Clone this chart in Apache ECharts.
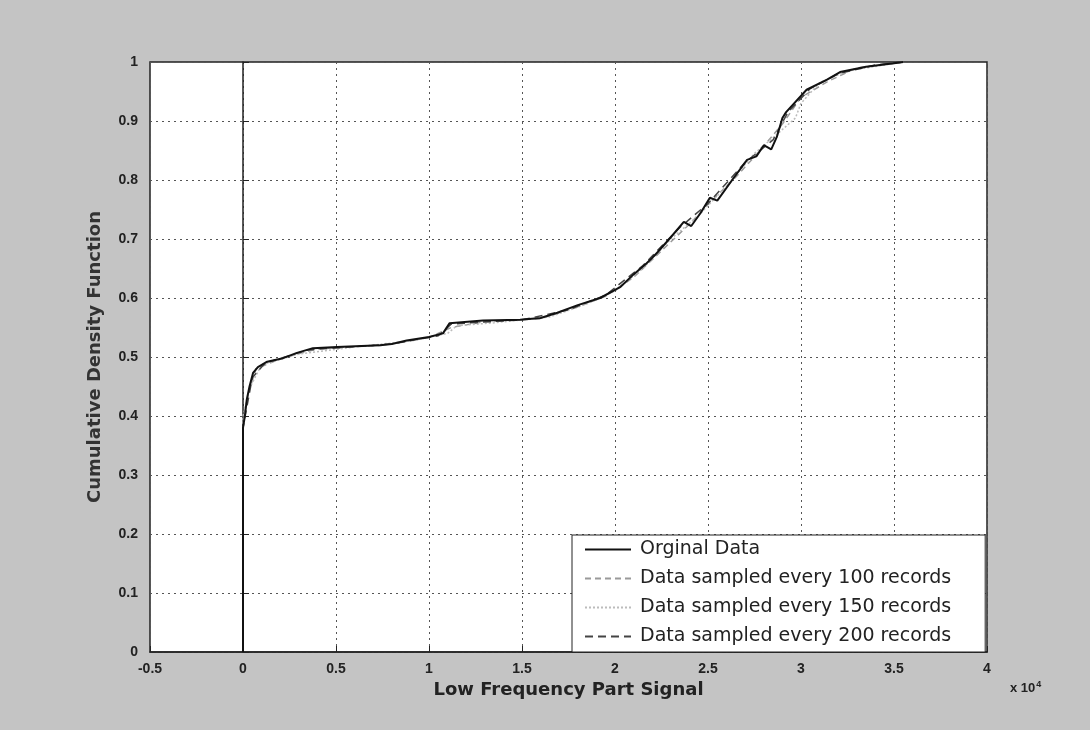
<!DOCTYPE html>
<html>
<head>
<meta charset="utf-8">
<script src="https://cdn.jsdelivr.net/npm/echarts@6/dist/echarts.min.js"></script>
<style>
  html, body { margin: 0; padding: 0; background: #c4c4c4; }
  #chart { width: 1090px; height: 730px; }
</style>
</head>
<body>
<div id="chart"></div>
<script>
// values, x in units of 10^4
var legendNames = [
  "Orginal Data",
  "Data sampled every 100 records",
  "Data sampled every 150 records",
  "Data sampled every 200 records"
];
var xTicks = [-0.5, 0, 0.5, 1, 1.5, 2, 2.5, 3, 3.5, 4];
var yTicks = [0, 0.1, 0.2, 0.3, 0.4, 0.5, 0.6, 0.7, 0.8, 0.9, 1];

var originalData = [
  [0, 0], [0, 0.38], [0.01, 0.40], [0.02, 0.427], [0.035, 0.45], [0.054, 0.473],
  [0.08, 0.483], [0.13, 0.492], [0.215, 0.498], [0.29, 0.507], [0.376, 0.515],
  [0.505, 0.517], [0.737, 0.52], [0.80, 0.522], [0.88, 0.528], [1.0, 0.534],
  [1.075, 0.54], [1.11, 0.557], [1.29, 0.562], [1.49, 0.563], [1.6, 0.566],
  [1.69, 0.575], [1.8, 0.588], [1.92, 0.60], [2.03, 0.619], [2.1, 0.64],
  [2.17, 0.659], [2.2, 0.668], [2.23, 0.678], [2.3, 0.703], [2.37, 0.729],
  [2.41, 0.722], [2.46, 0.744], [2.51, 0.77], [2.55, 0.765], [2.63, 0.80],
  [2.71, 0.834], [2.76, 0.84], [2.8, 0.859], [2.84, 0.852], [2.87, 0.873],
  [2.9, 0.905], [2.92, 0.915], [3.03, 0.953], [3.14, 0.97], [3.21, 0.983],
  [3.35, 0.992], [3.5, 0.998], [3.55, 1.0]
];
var sampled100 = [
  [0, 0], [0, 0.39], [0.03, 0.44], [0.07, 0.48], [0.2, 0.497], [0.4, 0.514],
  [0.75, 0.52], [1.0, 0.533], [1.12, 0.55], [1.3, 0.56], [1.6, 0.565],
  [1.8, 0.585], [1.95, 0.603], [2.1, 0.635], [2.25, 0.68], [2.4, 0.725],
  [2.52, 0.765], [2.65, 0.805], [2.78, 0.85], [2.9, 0.895], [3.0, 0.94],
  [3.15, 0.968], [3.3, 0.99], [3.55, 1.0]
];
var sampled150 = [
  [0, 0], [0, 0.4], [0.04, 0.45], [0.1, 0.487], [0.3, 0.505], [0.6, 0.517],
  [0.9, 0.527], [1.1, 0.54], [1.15, 0.553], [1.35, 0.558], [1.65, 0.568],
  [1.85, 0.59], [2.0, 0.612], [2.15, 0.65], [2.3, 0.7], [2.45, 0.74],
  [2.6, 0.79], [2.75, 0.845], [2.88, 0.88], [2.97, 0.905], [3.0, 0.93],
  [3.1, 0.965], [3.25, 0.985], [3.55, 1.0]
];
var sampled200 = [
  [0, 0], [0, 0.38], [0.05, 0.465], [0.12, 0.49], [0.35, 0.512], [0.8, 0.522],
  [1.05, 0.536], [1.12, 0.556], [1.5, 0.563], [1.75, 0.58], [1.95, 0.605],
  [2.15, 0.655], [2.35, 0.72], [2.5, 0.76], [2.7, 0.83], [2.85, 0.868],
  [2.93, 0.915], [3.05, 0.955], [3.2, 0.98], [3.4, 0.995], [3.55, 1.0]
];

var chart = echarts.init(document.getElementById("chart"));
var font = "Liberation Sans, Arial, sans-serif";
var wideFont = "DejaVu Sans, Liberation Sans, sans-serif";

function lineSeries(name, data, color, type, width) {
  return {
    name: name,
    type: "line",
    data: data,
    symbol: "none",
    animation: false,
    lineStyle: { color: color, type: type, width: width },
    itemStyle: { color: color }
  };
}

chart.setOption({
  backgroundColor: "#c4c4c4",
  textStyle: { fontFamily: font },
  grid: {
    left: 150, right: 103, top: 62, bottom: 78,
    show: true, backgroundColor: "#ffffff", borderColor: "#222", borderWidth: 1.5
  },
  xAxis: {
    type: "value",
    min: xTicks[0], max: xTicks[xTicks.length - 1], interval: 0.5,
    name: "Low Frequency Part Signal",
    nameLocation: "middle", nameGap: 27,
    nameTextStyle: { fontSize: 18, fontWeight: "bold", color: "#222", fontFamily: wideFont },
    axisLine: { lineStyle: { color: "#222", width: 1.5 } },
    axisTick: { inside: true, length: 6, lineStyle: { color: "#222" } },
    axisLabel: { fontSize: 14, fontWeight: "bold", color: "#222", margin: 10 },
    splitLine: { show: true, lineStyle: { color: "#555", type: [2, 4], width: 1 } }
  },
  yAxis: {
    type: "value",
    min: yTicks[0], max: yTicks[yTicks.length - 1], interval: 0.1,
    name: "Cumulative Density Function",
    nameLocation: "middle", nameGap: 46,
    nameTextStyle: { fontSize: 18, fontWeight: "bold", color: "#333", fontFamily: wideFont },
    axisLine: { lineStyle: { color: "#222", width: 1.5 } },
    axisTick: { inside: true, length: 6, lineStyle: { color: "#222" } },
    axisLabel: { fontSize: 14, fontWeight: "bold", color: "#222", margin: 12 },
    splitLine: { show: true, lineStyle: { color: "#555", type: [2, 4], width: 1 } }
  },
  legend: {
    orient: "vertical",
    left: 572, top: 535,
    padding: [5, 34, 6, 12],
    itemGap: 10,
    itemWidth: 46, itemHeight: 14,
    itemStyle: { opacity: 0 },
    backgroundColor: "#ffffff",
    borderColor: "#222", borderWidth: 1,
    borderRadius: 0,
    textStyle: { fontSize: 19, color: "#222", fontFamily: wideFont, padding: [0, 0, 0, 4] },
    data: legendNames
  },
  graphic: [{
    type: "text",
    left: 1010, top: 680,
    style: {
      text: "x 10{s|4}",
      fill: "#222",
      font: "bold 13px " + font,
      rich: { s: { fontSize: 9, fontWeight: "bold", verticalAlign: "top", padding: [0, 0, 8, 1] } }
    }
  }],
  series: [
    lineSeries(legendNames[1], sampled100, "#9a9a9a", [6, 4], 1.5),
    lineSeries(legendNames[2], sampled150, "#bcbcbc", [2, 2], 1.5),
    lineSeries(legendNames[3], sampled200, "#444444", [8, 5], 1.5),
    lineSeries(legendNames[0], originalData, "#111111", "solid", 2)
  ]
});
</script>
</body>
</html>
